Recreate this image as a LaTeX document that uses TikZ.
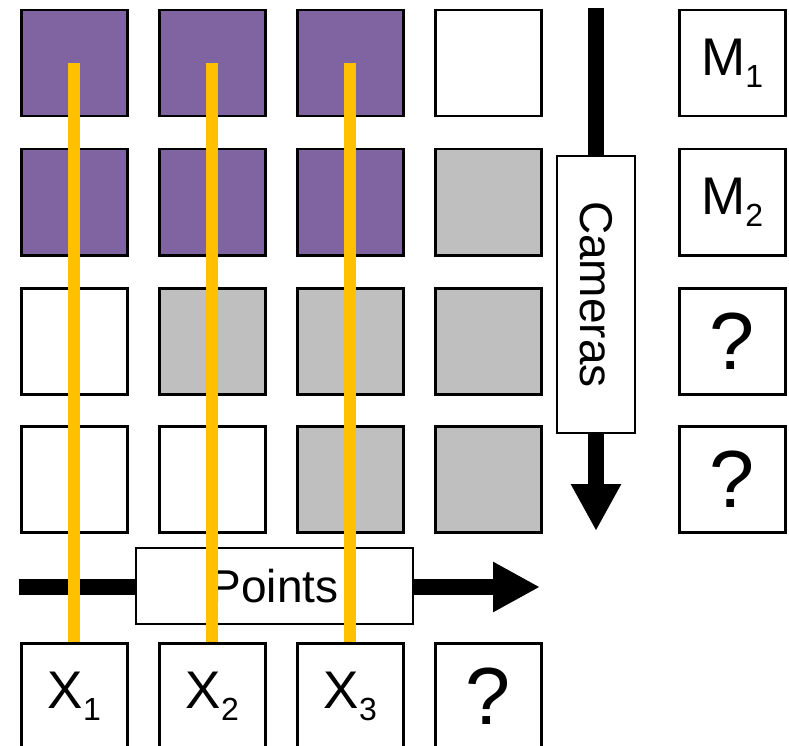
\documentclass[tikz,border=0pt]{standalone}
\usepackage{fontspec}
\setmainfont{Liberation Sans}
\usetikzlibrary{arrows.meta}
\definecolor{cpurple}{HTML}{8064A2}
\definecolor{cgray}{HTML}{BFBFBF}
\definecolor{cyellow}{HTML}{FFC000}
\newcommand{\bigtxt}{\fontsize{53}{60}\selectfont}
\newcommand{\qtxt}{\fontsize{81}{90}\selectfont}
\newcommand{\mysub}[1]{\raisebox{-12pt}{\fontsize{32}{34}\selectfont #1}}
\tikzset{
  cell/.style={draw=black, line width=2.5pt, minimum width=106pt, minimum height=106pt, inner sep=0pt, anchor=north west},
  pcell/.style={cell, fill=cpurple},
  gcell/.style={cell, fill=cgray},
  wcell/.style={cell, fill=white},
  lbox/.style={cell, fill=white, font=\bigtxt},
  qbox/.style={cell, fill=white, font=\qtxt},
  axisbox/.style={draw=black, line width=1.3pt, fill=white, inner sep=0pt, font=\fontsize{46}{50}\selectfont},
  bigarrow/.style={line width=16pt, -{Triangle[length=47pt,width=47pt]}},
  track/.style={cyellow, line width=12pt}
}
\begin{document}
\begin{tikzpicture}[x=1pt,y=-1pt]
\useasboundingbox (0,0) rectangle (789,746);
\clip (0,0) rectangle (789,746);
% grid
\node[pcell] (c11) at (20,9) {};
\node[pcell] (c12) at (158,9) {};
\node[pcell] (c13) at (296,9) {};
\node[wcell] (c14) at (434,9) {};
\node[pcell] (c21) at (20,148) {};
\node[pcell] (c22) at (158,148) {};
\node[pcell] (c23) at (296,148) {};
\node[gcell] (c24) at (434,148) {};
\node[wcell] (c31) at (20,287) {};
\node[gcell] (c32) at (158,287) {};
\node[gcell] (c33) at (296,287) {};
\node[gcell] (c34) at (434,287) {};
\node[wcell] (c41) at (20,425) {};
\node[wcell] (c42) at (158,425) {};
\node[gcell] (c43) at (296,425) {};
\node[gcell] (c44) at (434,425) {};
% right column
\node[lbox] (m1) at (678,9) {M\mysub{1}};
\node[lbox] (m2) at (678,148) {M\mysub{2}};
\node[qbox] (m3) at (678,287) {?};
\node[qbox] (m4) at (678,425) {?};
% bottom row
\node[lbox] (x1) at (20,642) {X\mysub{1}};
\node[lbox] (x2) at (158,642) {X\mysub{2}};
\node[lbox] (x3) at (296,642) {X\mysub{3}};
\node[qbox] (x4) at (434,642) {?};
% cameras arrow
\coordinate (camtop) at (596,8);
\coordinate (camtip) at (596,531);
\draw[bigarrow] (camtop) -- (camtip);
\node[axisbox, minimum width=277pt, minimum height=78pt, rotate=-90] (cam) at (596,294.5) {Cameras};
% points arrow
\coordinate (ptstart) at (19,587);
\coordinate (pttip) at (540,587);
\draw[bigarrow] (ptstart) -- (pttip);
\node[axisbox, minimum width=277pt, minimum height=76pt] (pts) at (274.5,586) {Points};
% yellow tracks
\draw[track] (c11.center) -- (x1.north);
\draw[track] (c12.center) -- (x2.north);
\draw[track] (c13.center) -- (x3.north);
\end{tikzpicture}
\end{document}
